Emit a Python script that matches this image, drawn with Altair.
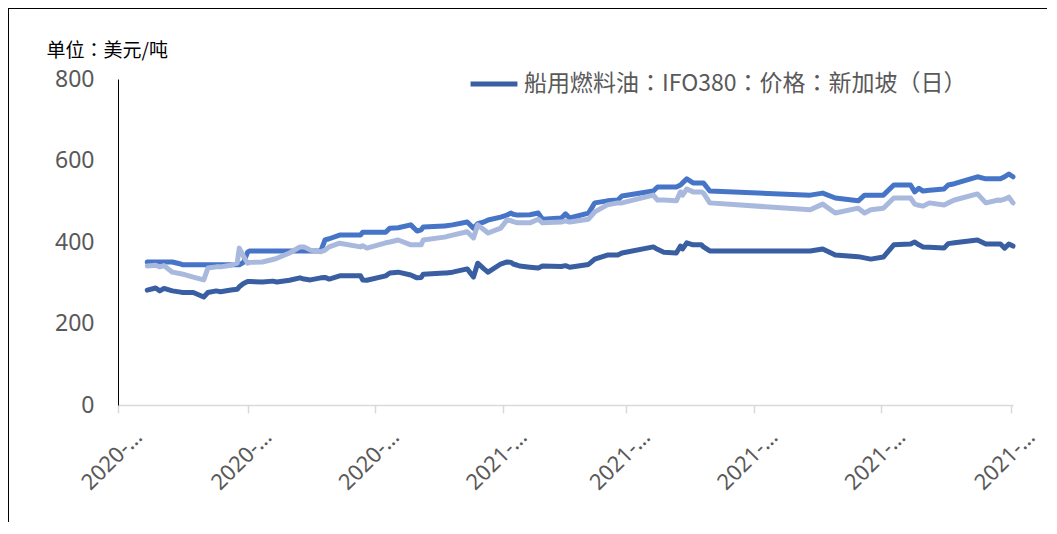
import altair as alt
import pandas as pd

dates = [
    "2020-07-15", "2020-07-19", "2020-07-21", "2020-07-23", "2020-07-27", "2020-07-31",
    "2020-08-01", "2020-08-06", "2020-08-11", "2020-08-13", "2020-08-17", "2020-08-19",
    "2020-08-24", "2020-08-27", "2020-08-28", "2020-08-30", "2020-09-01", "2020-09-02",
    "2020-09-08", "2020-09-13", "2020-09-15", "2020-09-21", "2020-09-26", "2020-09-28",
    "2020-10-01", "2020-10-06", "2020-10-08", "2020-10-10", "2020-10-15", "2020-10-25",
    "2020-10-26", "2020-10-28", "2020-11-06", "2020-11-08", "2020-11-12", "2020-11-18",
    "2020-11-21", "2020-11-23", "2020-11-24", "2020-12-04", "2020-12-05", "2020-12-08",
    "2020-12-15", "2020-12-18", "2020-12-20", "2020-12-23", "2020-12-25", "2020-12-31",
    "2021-01-03", "2021-01-05", "2021-01-06", "2021-01-08", "2021-01-09", "2021-01-14",
    "2021-01-18", "2021-01-20", "2021-01-29", "2021-01-31", "2021-02-02", "2021-02-11",
    "2021-02-14", "2021-02-20", "2021-02-25", "2021-02-27", "2021-03-14", "2021-03-16",
    "2021-03-19", "2021-03-25", "2021-03-27", "2021-03-28", "2021-03-30", "2021-04-02",
    "2021-04-06", "2021-04-07", "2021-04-10", "2021-05-28", "2021-06-03", "2021-06-09",
    "2021-06-20", "2021-06-23", "2021-06-26", "2021-07-02", "2021-07-07", "2021-07-15",
    "2021-07-17", "2021-07-19", "2021-07-21", "2021-07-24", "2021-07-31", "2021-08-02",
    "2021-08-05", "2021-08-16", "2021-08-20", "2021-08-26", "2021-08-27", "2021-08-29",
    "2021-08-31", "2021-09-02",
]

ifo380 = [
    282, 287, 280, 286, 280, 277,
    276, 276, 265, 276, 280, 278,
    282, 284, 290, 298, 303, 303,
    302, 304, 302, 306, 312, 309,
    307, 312, 313, 309, 317, 317,
    307, 306, 317, 324, 326, 319,
    312, 313, 321, 324, 324, 326,
    334, 314, 348, 334, 326, 346,
    351, 350, 346, 343, 341, 338,
    336, 341, 340, 342, 338, 345,
    358, 368, 368, 373, 388, 382,
    375, 373, 390, 383, 398, 393,
    393, 388, 378, 378, 383, 368,
    364, 361, 358, 363, 393, 395,
    400, 393, 388, 387, 385, 396,
    398, 405, 395, 395, 395, 385,
    395, 390,
]

series2 = [
    351, 351, 351, 351, 351, 346,
    344, 344, 344, 344, 344, 344,
    344, 344, 344, 350, 375, 378,
    378, 378, 378, 378, 378, 378,
    378, 378, 405, 408, 417, 417,
    424, 424, 424, 434, 435, 442,
    427, 430, 437, 439, 440, 442,
    449, 434, 445, 449, 454, 461,
    466, 471, 468, 466, 466, 467,
    471, 456, 459, 469, 459, 471,
    496, 501, 503, 513, 525, 535,
    535, 535, 540, 545, 555, 545,
    545, 545, 525, 515, 520, 508,
    501, 515, 515, 515, 540, 540,
    523, 532, 525, 527, 530, 540,
    543, 560, 555, 555, 555, 560,
    567, 560,
]

series3 = [
    341, 343, 339, 342, 326, 322,
    321, 314, 307, 336, 339, 339,
    343, 348, 385, 365, 348, 350,
    351, 357, 360, 373, 388, 388,
    380, 376, 380, 388, 397, 388,
    391, 385, 398, 400, 405, 393,
    393, 393, 405, 412, 413, 417,
    425, 410, 442, 430, 422, 434,
    454, 452, 450, 447, 447, 447,
    456, 447, 449, 452, 449, 456,
    474, 491, 496, 496, 515, 503,
    503, 501, 523, 515, 530, 523,
    523, 520, 496, 479, 493, 471,
    483, 471, 479, 483, 508, 508,
    493, 490, 488, 496, 491, 496,
    503, 518, 496, 503, 502, 505,
    510, 496,
]

NAME_A = "船用燃料油：IFO380：价格：新加坡（日）"
NAME_B = "系列2"
NAME_C = "系列3"
series_names = [NAME_A, NAME_B, NAME_C]
series_colors = ["#3A5EA2", "#4675C8", "#A9B8DD"]

y_ticks = [0, 200, 400, 600, 800]

rows = []
for d, a, b, c in zip(dates, ifo380, series2, series3):
    rows.append({"date": d, "series": NAME_A, "value": a})
    rows.append({"date": d, "series": NAME_B, "value": b})
    rows.append({"date": d, "series": NAME_C, "value": c})
df = pd.DataFrame(rows)

x_ticks = [
    alt.DateTime(year=2020, month=7, date=1, utc=True),
    alt.DateTime(year=2020, month=9, date=1, utc=True),
    alt.DateTime(year=2020, month=11, date=1, utc=True),
    alt.DateTime(year=2021, month=1, date=1, utc=True),
    alt.DateTime(year=2021, month=3, date=1, utc=True),
    alt.DateTime(year=2021, month=5, date=1, utc=True),
    alt.DateTime(year=2021, month=7, date=1, utc=True),
    alt.DateTime(year=2021, month=9, date=1, utc=True),
]

FONT = "Noto Sans"
GRAY = "#595959"

lines = alt.Chart(df).mark_line(
    strokeWidth=5, strokeJoin="round", strokeCap="round"
).encode(
    x=alt.X(
        "date:T",
        scale=alt.Scale(
            type="utc",
            domain=[
                alt.DateTime(year=2020, month=7, date=1, utc=True),
                alt.DateTime(year=2021, month=9, date=2, utc=True),
            ],
        ),
        axis=alt.Axis(
            title=None,
            values=x_ticks,
            labelExpr="utcFormat(datum.value, '%Y') + '-…'",
            labelAngle=-45,
            labelAlign="right",
            labelBaseline="middle",
            labelFontSize=22,
            labelFont=FONT,
            labelColor=GRAY,
            labelPadding=20,
            labelOffset=20,
            domainColor="#D9D9D9",
            domainWidth=1.5,
            tickColor="#D9D9D9",
            tickWidth=1.5,
            tickSize=8,
            grid=False,
            labelOverlap=False,
        ),
    ),
    y=alt.Y(
        "value:Q",
        scale=alt.Scale(domain=[0, 800], nice=False),
        axis=alt.Axis(
            title="单位：美元/吨",
            titleAngle=0,
            titleAlign="left",
            titleBaseline="middle",
            titleX=-72,
            titleY=-29,
            titleFont="Noto Sans CJK TC",
            titleFontSize=19,
            titleFontWeight="normal",
            titleColor="#000000",
            values=y_ticks,
            labelFontSize=23,
            labelFont=FONT,
            labelColor=GRAY,
            labelPadding=24,
            ticks=False,
            domainColor="#000000",
            domainWidth=1,
            grid=False,
        ),
    ),
    color=alt.Color(
        "series:N",
        scale=alt.Scale(domain=series_names, range=series_colors),
        legend=alt.Legend(
            values=[NAME_A],
            orient="none",
            legendX=350,
            legendY=-21,
            title=None,
            symbolType="stroke",
            symbolSize=2200,
            symbolStrokeWidth=5,
            labelFont="Noto Sans CJK TC",
            labelFontSize=23,
            labelColor=GRAY,
            labelLimit=700,
        ),
    ),
    order=alt.Order("date:T"),
)

frame_df = pd.DataFrame({"k": [0]})
frame_left = alt.Chart(frame_df).mark_rule(color="#000000", strokeWidth=2).encode(
    x=alt.value(-110), y=alt.value(-71), y2=alt.value(470)
)
frame_top = alt.Chart(frame_df).mark_rule(color="#000000", strokeWidth=2).encode(
    x=alt.value(-110), x2=alt.value(940), y=alt.value(-71)
)

chart = alt.layer(lines, frame_left, frame_top).properties(
    width=895,
    height=326,
    autosize=alt.AutoSizeParams(type="none"),
    padding={"left": 110, "top": 71, "right": 34, "bottom": 117},
).configure_view(stroke=None)

chart.save("out.html", embed_options={"renderer": "svg", "actions": False})
